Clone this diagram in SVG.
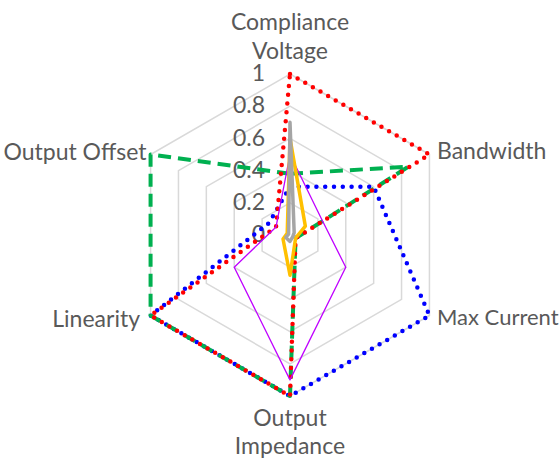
<svg xmlns="http://www.w3.org/2000/svg" width="560" height="460" viewBox="0 0 560 460">
<style>
text{font-family:Lato,"Liberation Sans",sans-serif;font-size:23px;fill:#595959}
.ring{fill:none;stroke:#d9d9d9;stroke-width:1.5}
.s{fill:none;stroke-linejoin:round}
.blue{stroke:#0000ff;stroke-width:4.5;stroke-dasharray:0 8.8;stroke-linecap:round}
.red{stroke:#ff0000;stroke-width:4.5;stroke-dasharray:0 8.8;stroke-linecap:round}
.green{stroke:#00b050;stroke-width:4;stroke-dasharray:13 7}
.purple{stroke:#bf00ff;stroke-width:1.3}
.orange{stroke:#ffc000;stroke-width:3.5}
.gray{stroke:#a5a5a5;stroke-width:3.5}
.ax{text-anchor:end}
.mid{text-anchor:middle}
</style>
<rect width="560" height="460" fill="#ffffff"/>
<g id="grid">
<polygon class="ring" points="290,74 429.43,154.5 429.43,315.5 290,396 150.57,315.5 150.57,154.5"/>
<polygon class="ring" points="290,106.2 401.54,170.6 401.54,299.4 290,363.8 178.46,299.4 178.46,170.6"/>
<polygon class="ring" points="290,138.4 373.66,186.7 373.66,283.3 290,331.6 206.34,283.3 206.34,186.7"/>
<polygon class="ring" points="290,170.6 345.77,202.8 345.77,267.2 290,299.4 234.23,267.2 234.23,202.8"/>
<polygon class="ring" points="290,202.8 317.89,218.9 317.89,251.1 290,267.2 262.11,251.1 262.11,218.9"/>
</g>
<g id="axis-values">
<text class="ax" x="265" y="81">1</text>
<text class="ax" x="265" y="113">0.8</text>
<text class="ax" x="265" y="146">0.6</text>
<text class="ax" x="265" y="178">0.4</text>
<text class="ax" x="265" y="210">0.2</text>
<text class="ax" x="265" y="242">0</text>
</g>
<g id="series">
<polygon id="s-blue" class="s blue" points="290,186.7 373.66,186.7 429.43,315.5 290,396 150.57,315.5 269.09,222.93"/>
<polygon id="s-green" class="s green" points="290,173.8 408.52,166.6 295.58,238.22 290,396 150.57,315.5 150.57,154.5"/>
<polygon id="s-red" class="s red" points="290,74 429.43,154.5 295.58,238.22 290,396 150.57,315.5 276.06,226.95"/>
<polygon id="s-purple" class="s purple" points="290,154.5 320.67,217.29 345.77,267.2 290,379.9 234.23,267.2 276.06,226.95"/>
<polygon id="s-orange" class="s orange" points="290,138.4 305.34,226.15 295.58,238.22 290,275.25 283.03,239.03 287.21,233.39"/>
<polygon id="s-gray" class="s gray" points="290,122.3 294.18,232.59 292.79,236.61 290,241.44 285.82,237.42 288.6,234.2"/>
</g>
<g id="label-compliance"><text class="mid" x="290" y="29.5">Compliance</text><text class="mid" x="290" y="58.5">Voltage</text></g>
<g id="label-bandwidth"><text x="437" y="158.5">Bandwidth</text></g>
<g id="label-maxcurrent"><text x="437" y="325" style="font-size:22px">Max Current</text></g>
<g id="label-impedance"><text class="mid" x="290" y="426">Output</text><text class="mid" x="290" y="454">Impedance</text></g>
<g id="label-linearity"><text class="ax" x="140" y="326.5">Linearity</text></g>
<g id="label-offset"><text class="ax" x="146.5" y="160">Output Offset</text></g>
</svg>
